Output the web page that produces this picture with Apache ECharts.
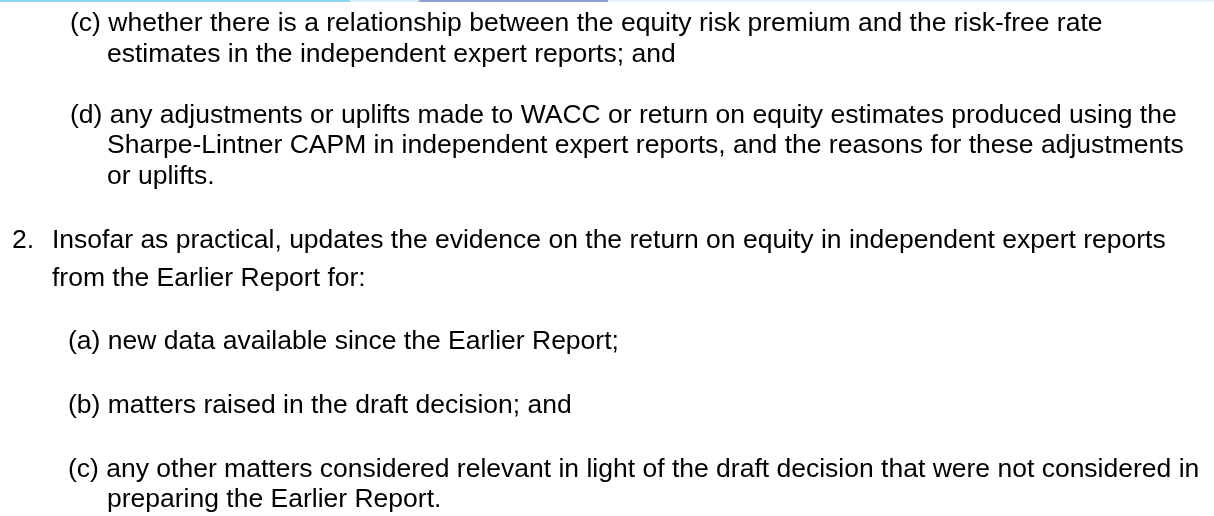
<!DOCTYPE html>
<html><head><meta charset="utf-8">
<script src="https://cdn.jsdelivr.net/npm/echarts@6/dist/echarts.min.js"></script>
<style>html,body{margin:0;padding:0;background:#fff}#c{width:1214px;height:516px}</style>
</head><body><div id="c"></div>
<script>
// Text content of the page, one entry per rendered line
const lineTexts = [
  "(c) whether there is a relationship between the equity risk premium and the risk-free rate",
  "estimates in the independent expert reports; and",
  "(d) any adjustments or uplifts made to WACC or return on equity estimates produced using the",
  "Sharpe-Lintner CAPM in independent expert reports, and the reasons for these adjustments",
  "or uplifts.",
  "2.",
  "Insofar as practical, updates the evidence on the return on equity in independent expert reports",
  "from the Earlier Report for:",
  "(a) new data available since the Earlier Report;",
  "(b) matters raised in the draft decision; and",
  "(c) any other matters considered relevant in light of the draft decision that were not considered in",
  "preparing the Earlier Report."
];
// layout: [x, bottom y] per line
const lineX = [70, 107, 70, 107, 107, 12, 52, 52, 68, 68, 68, 107];
const lineBottom = [37, 68, 129, 159, 190, 254, 254, 292, 355, 419, 483, 513];
// top decorative strip segments [x0, x1, color]
const stripSegments = [[0, 350, '#8dd5f2'], [350, 418, '#d6eff9'], [418, 420, '#b9c3d9'], [420, 608, '#8e9fd2'], [608, 1214, '#eaf4fb']];

const chart = echarts.init(document.getElementById('c'), null, {renderer: 'canvas'});
const graphics = [];
stripSegments.forEach(s => graphics.push({type: 'rect', shape: {x: s[0], y: 0, width: s[1] - s[0], height: 2}, style: {fill: s[2]}}));
lineTexts.forEach((t, i) => graphics.push({
  type: 'text', x: lineX[i], y: lineBottom[i],
  style: {text: t, fill: '#000', font: '26.5px "Liberation Sans", Arial, sans-serif', verticalAlign: 'bottom', textVerticalAlign: 'bottom'}
}));
chart.setOption({animation: false, graphic: graphics});
</script></body></html>
